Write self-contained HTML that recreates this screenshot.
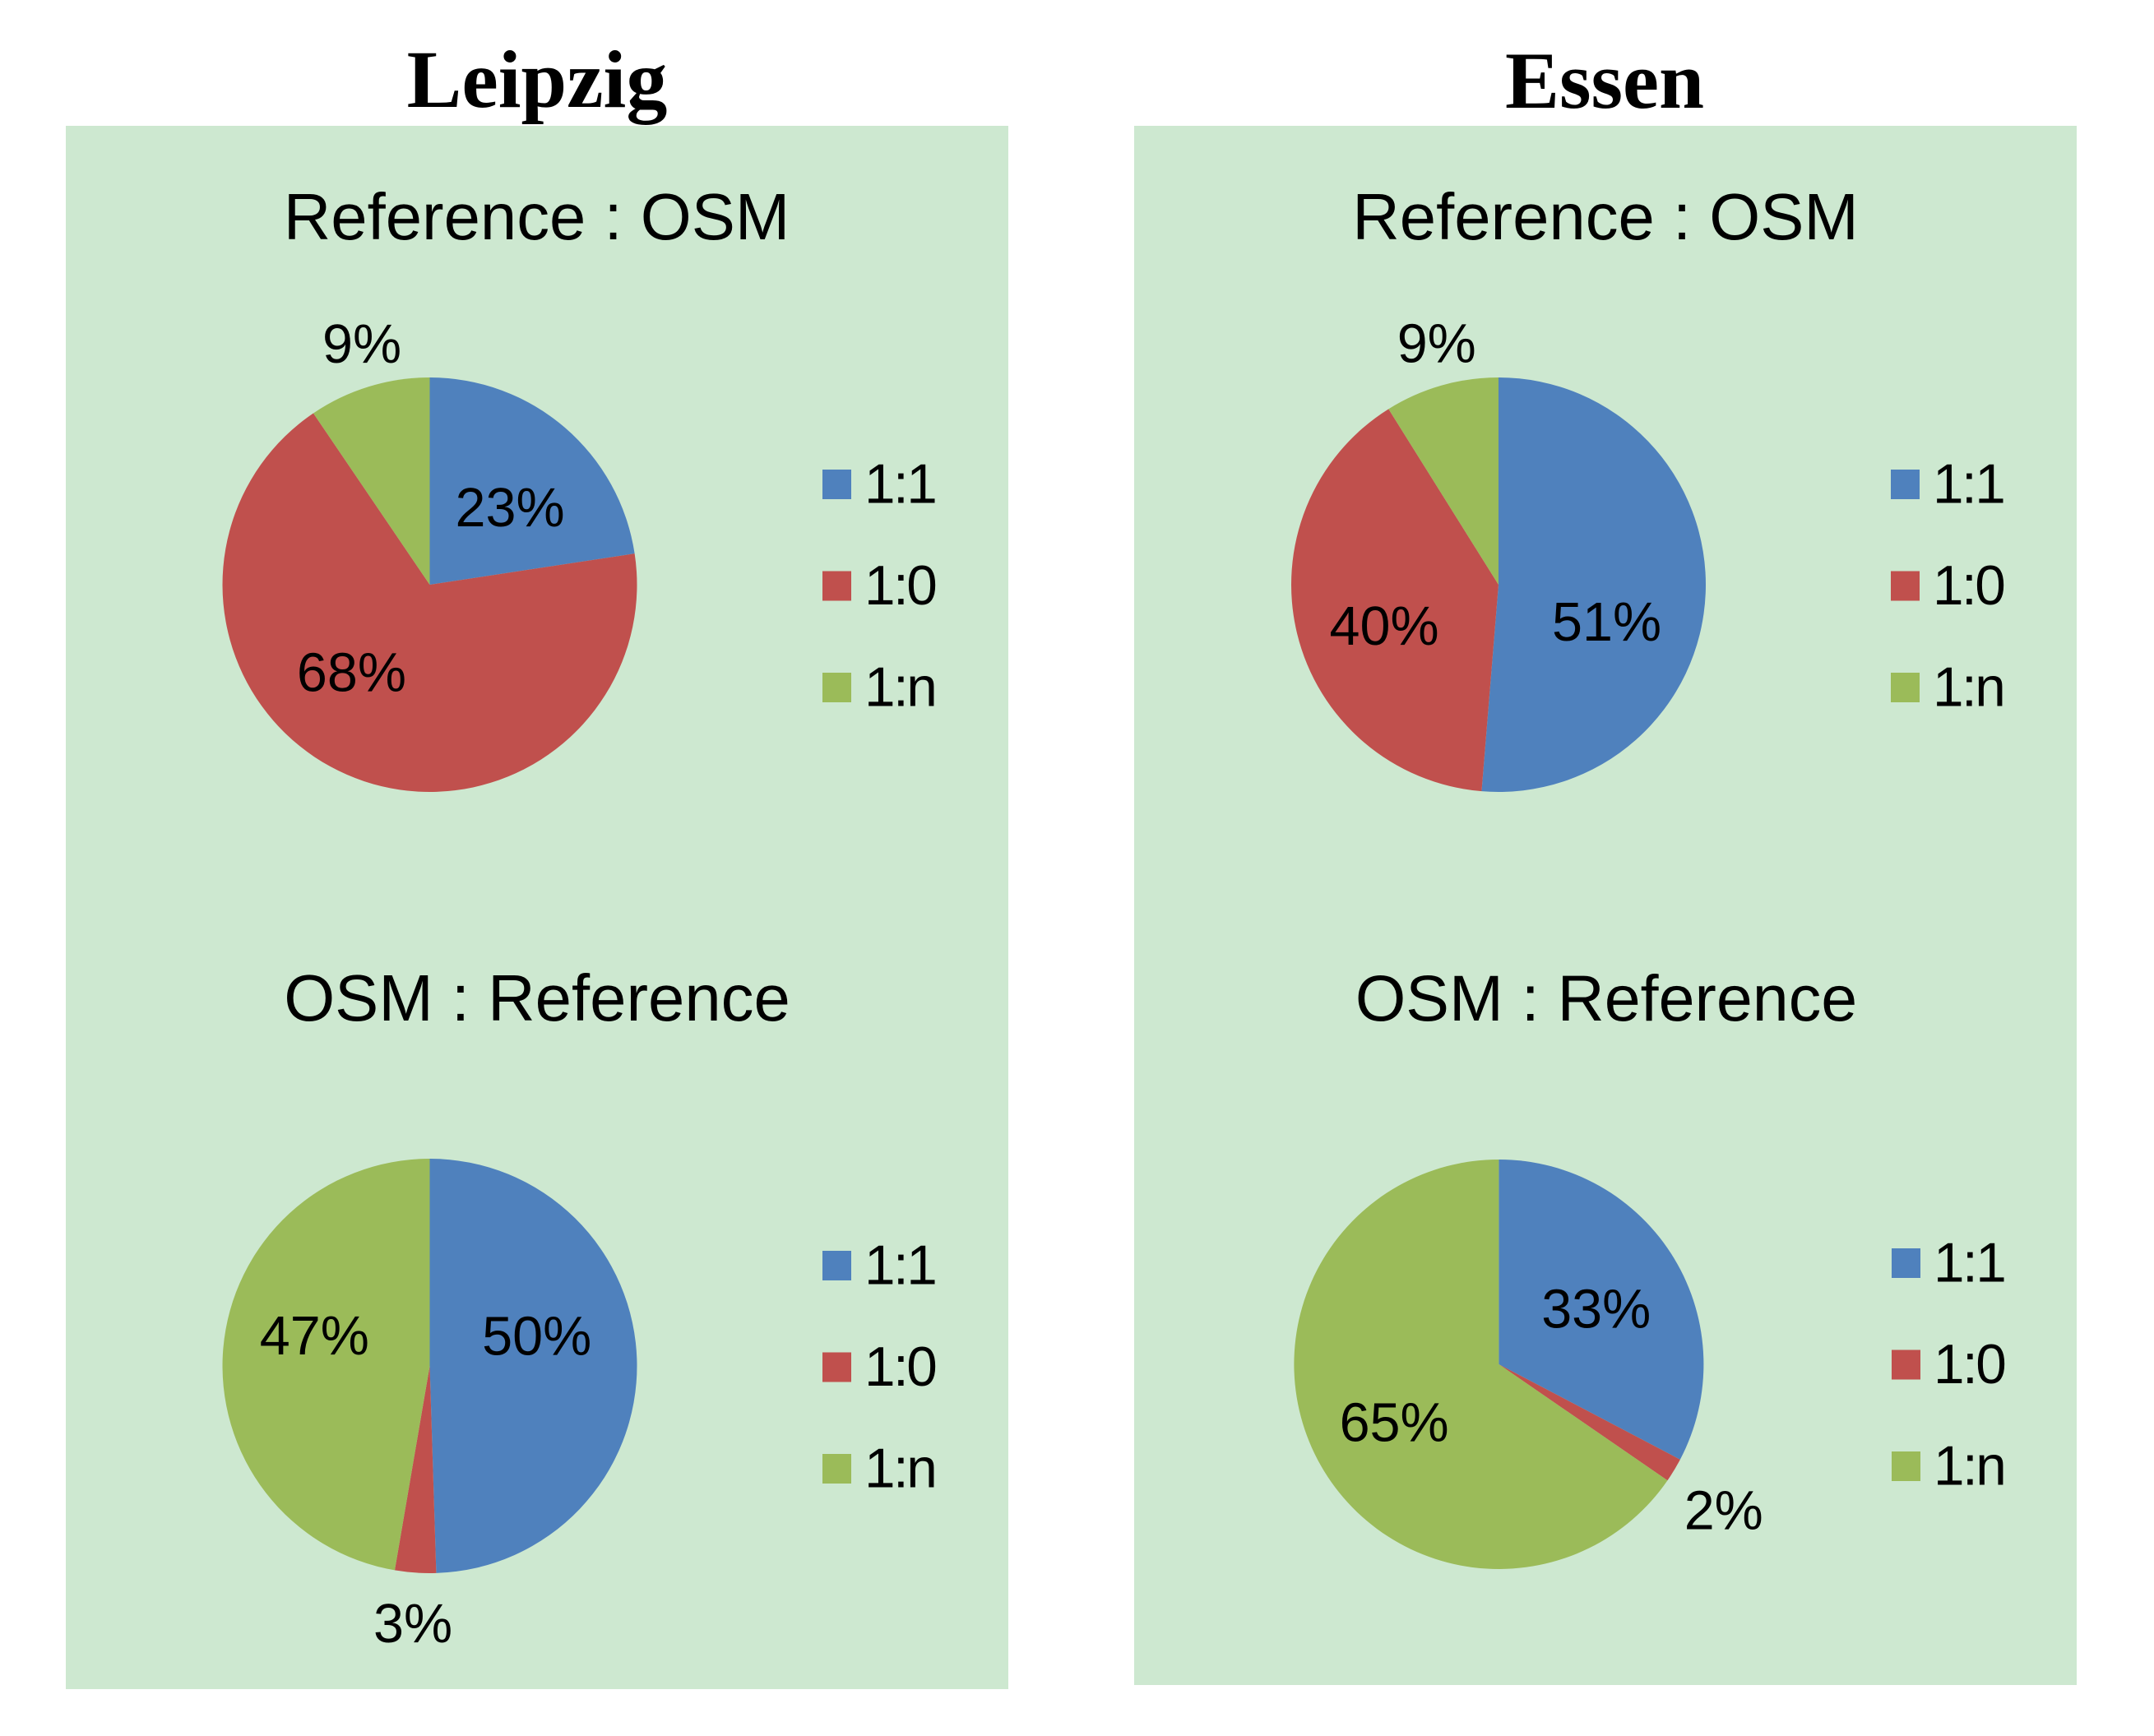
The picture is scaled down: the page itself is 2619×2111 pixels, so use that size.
<!DOCTYPE html>
<html lang="en">
<head>
<meta charset="utf-8">
<title>Leipzig and Essen matching pie charts</title>
<style>
html,body{margin:0;padding:0;background:#fff;width:2619px;height:2111px;overflow:hidden}
svg{display:block}
text{font-family:"Liberation Sans",Arial,sans-serif;fill:#000}
.city{font-family:"Liberation Serif","Times New Roman",serif;font-weight:bold;font-size:100px;text-anchor:middle}
.chart-title{font-size:79.7px;text-anchor:middle}
.label{font-size:66.5px;text-anchor:middle}
.legend-text{font-size:67.5px;letter-spacing:-2.5px}
</style>
</head>
<body>
<svg id="figure" xmlns="http://www.w3.org/2000/svg" width="2619" height="2111" viewBox="0 0 2619 2111">
  <rect x="0" y="0" width="2619" height="2111" fill="#ffffff"/>
  <text class="city" x="653" y="130">Leipzig</text>
  <text class="city" x="1951" y="131" style="font-size:99px">Essen</text>
  <rect x="80" y="153" width="1146" height="1901" fill="#cde8d0"/>
  <rect x="1379" y="153" width="1146" height="1896" fill="#cde8d0"/>
  <text class="chart-title" x="652.5" y="291">Reference : OSM</text>
  <text class="chart-title" x="1952" y="291">Reference : OSM</text>
  <text class="chart-title" x="653" y="1241">OSM : Reference</text>
  <text class="chart-title" x="1953" y="1241" style="font-size:79px">OSM : Reference</text>
</svg>
<script>
// Chart data (percent per category)
const categories = ['1:1', '1:0', '1:n'];
const leipzigReferenceOsm = [22.6, 67.91, 9.49];
const essenReferenceOsm = [51.3, 39.8, 8.9];
const leipzigOsmReference = [49.5, 3.2, 47.3];
const essenOsmReference = [32.7, 1.9, 65.4];

const sliceColors = ['#4f81bd', '#c0504d', '#9bbb59'];
const SVG_NS = 'http://www.w3.org/2000/svg';
const figure = document.getElementById('figure');

function sliceAngle(value, total) {
  return value / total * Math.PI * 2;
}
function polarX(cx, r, angle) {
  return cx + r * Math.sin(angle);
}
function polarY(cy, r, angle) {
  return cy - r * Math.cos(angle);
}

function drawPie(values, layout) {
  const total = values.reduce(function (a, b) { return a + b; }, 0);
  const group = document.createElementNS(SVG_NS, 'g');
  
  
  figure.appendChild(group);

  let start = 0;
  values.forEach(function (value, i) {
    const sweep = sliceAngle(value, total);
    const end = start + sweep;
    const large = sweep > Math.PI ? 1 : 0;
    const path = document.createElementNS(SVG_NS, 'path');
    path.setAttribute('d',
      'M' + layout.cx + ' ' + layout.cy +
      'L' + polarX(layout.cx, layout.r, start) + ' ' + polarY(layout.cy, layout.r, start) +
      'A' + layout.r + ' ' + layout.r + ' 0 ' + large + ' 1 ' +
      polarX(layout.cx, layout.r, end) + ' ' + polarY(layout.cy, layout.r, end) + 'Z');
    path.setAttribute('fill', sliceColors[i]);
    
    
    group.appendChild(path);
    start = end;
  });

  // Value labels are placed from each slice's mid-angle plus a fixed nudge
  start = 0;
  values.forEach(function (value, i) {
    const sweep = sliceAngle(value, total);
    const mid = start + sweep / 2;
    const label = document.createElementNS(SVG_NS, 'text');
    label.setAttribute('class', 'label');
    label.setAttribute('x', polarX(layout.cx, layout.r * 0.6, mid) + layout.nudgeX[i]);
    label.setAttribute('y', polarY(layout.cy, layout.r * 0.6, mid) + layout.nudgeY[i] + 24);
    
    
    label.textContent = Math.round(value) + '%';
    group.appendChild(label);
    start += sweep;
  });

  categories.forEach(function (category, i) {
    const swatch = document.createElementNS(SVG_NS, 'rect');
    swatch.setAttribute('x', layout.legendX);
    swatch.setAttribute('y', layout.legendY + i * layout.legendStep);
    swatch.setAttribute('width', 35);
    swatch.setAttribute('height', 36);
    swatch.setAttribute('fill', sliceColors[i]);
    
    
    group.appendChild(swatch);

    const text = document.createElementNS(SVG_NS, 'text');
    text.setAttribute('class', 'legend-text');
    text.setAttribute('x', layout.legendX + 51);
    text.setAttribute('y', layout.legendY + i * layout.legendStep + 40.5);
    
    
    text.textContent = category;
    group.appendChild(text);
  });
}

drawPie(leipzigReferenceOsm, {
  name: 'leipzig-reference-osm-pie', cx: 522.5, cy: 711, r: 252,
  nudgeX: [-1, -34.5, -38], nudgeY: [19.5, -33, -149.5],
  legendX: 1000, legendY: 571, legendStep: 123.5
});
drawPie(essenReferenceOsm, {
  name: 'essen-reference-osm-pie', cx: 1822, cy: 711, r: 252,
  nudgeX: [-19.5, 8, -33.5], nudgeY: [38, 13, -149],
  legendX: 2299, legendY: 571, legendStep: 123.5
});
drawPie(leipzigOsmReference, {
  name: 'leipzig-osm-reference-pie', cx: 522.5, cy: 1661, r: 252,
  nudgeX: [-21, -10, 10.5], nudgeY: [-35, 161, -25],
  legendX: 1000, legendY: 1521, legendStep: 123.5
});
drawPie(essenOsmReference, {
  name: 'essen-osm-reference-pie', cx: 1822.4, cy: 1659, r: 249,
  nudgeX: [-9.5, 145.5, 5], nudgeY: [9, 99, 0],
  legendX: 2300, legendY: 1518, legendStep: 123.5
});
</script>
</body>
</html>
